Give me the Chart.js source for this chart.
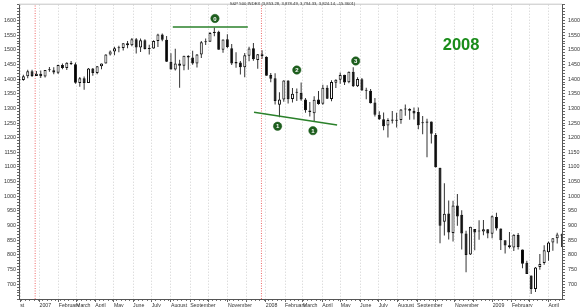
<!DOCTYPE html>
<html><head><meta charset="utf-8">
<script src="https://cdn.jsdelivr.net/npm/chart.js@4.4.1/dist/chart.umd.min.js"></script>
<style>html,body{margin:0;padding:0;background:#fff}canvas{display:block}</style>
</head><body>
<canvas id="c" width="580" height="307"></canvas>
<script>
// ---- data (weekly S&P 500 candles, week starting Monday) ----
const weeks = [
'2006-11-27','2006-12-04','2006-12-11','2006-12-18','2006-12-25',
'2007-01-01','2007-01-08','2007-01-15','2007-01-22','2007-01-29','2007-02-05','2007-02-12','2007-02-19','2007-02-26',
'2007-03-05','2007-03-12','2007-03-19','2007-03-26','2007-04-02','2007-04-09','2007-04-16','2007-04-23','2007-04-30',
'2007-05-07','2007-05-14','2007-05-21','2007-05-28','2007-06-04','2007-06-11','2007-06-18','2007-06-25','2007-07-02',
'2007-07-09','2007-07-16','2007-07-23','2007-07-30','2007-08-06','2007-08-13','2007-08-20','2007-08-27','2007-09-03',
'2007-09-10','2007-09-17','2007-09-24','2007-10-01','2007-10-08','2007-10-15','2007-10-22','2007-10-29','2007-11-05',
'2007-11-12','2007-11-19','2007-11-26','2007-12-03','2007-12-10','2007-12-17','2007-12-24','2007-12-31',
'2008-01-07','2008-01-14','2008-01-21','2008-01-28','2008-02-04','2008-02-11','2008-02-18','2008-02-25','2008-03-03',
'2008-03-10','2008-03-17','2008-03-24','2008-03-31','2008-04-07','2008-04-14','2008-04-21','2008-04-28','2008-05-05',
'2008-05-12','2008-05-19','2008-05-26','2008-06-02','2008-06-09','2008-06-16','2008-06-23','2008-06-30','2008-07-07',
'2008-07-14','2008-07-21','2008-07-28','2008-08-04','2008-08-11','2008-08-18','2008-08-25','2008-09-01','2008-09-08',
'2008-09-15','2008-09-22','2008-09-29','2008-10-06','2008-10-13','2008-10-20','2008-10-27','2008-11-03','2008-11-10',
'2008-11-17','2008-11-24','2008-12-01','2008-12-08','2008-12-15','2008-12-22','2008-12-29',
'2009-01-05','2009-01-12','2009-01-19','2009-01-26','2009-02-02','2009-02-09','2009-02-16','2009-02-23','2009-03-02',
'2009-03-09','2009-03-16','2009-03-23','2009-03-30','2009-04-06','2009-04-13','2009-04-20'];
const opens = [
1400.9,1396.7,1409.8,1427.1,1410.8,
1418.0,1409.3,1430.7,1430.5,1422.0,1448.3,1438.0,1455.5,1451.0,
1387.1,1402.8,1387.0,1436.1,1420.8,1443.8,1452.9,1484.4,1494.1,
1505.6,1505.8,1522.8,1515.7,1536.3,1507.7,1532.9,1502.6,1504.7,
1530.4,1552.5,1534.1,1458.9,1433.0,1453.4,1445.6,1479.4,1474.0,
1453.5,1484.2,1525.8,1527.3,1557.6,1562.0,1500.6,1536.0,1505.6,
1453.7,1456.7,1440.7,1479.6,1505.1,1465.1,1484.5,1475.3,
1414.1,1402.9,1312.9,1330.7,1395.4,1331.9,1355.9,1352.8,1330.5,
1293.2,1283.2,1330.3,1315.9,1370.2,1332.2,1387.7,1397.8,1415.3,
1389.4,1425.3,1376.0,1399.6,1360.8,1360.0,1319.8,1278.1,1262.9,
1241.6,1261.8,1257.8,1260.3,1296.3,1298.1,1292.2,1287.8,1249.5,
1250.9,1255.4,1209.1,1097.6,912.8,941.1,874.3,968.7,936.8,
873.2,801.2,888.6,882.7,879.7,887.2,872.4,
929.2,890.4,849.6,832.5,825.4,868.2,818.6,773.3,729.6,
683.3,758.8,772.0,809.1,842.2,856.9,868.3];
const highs = [
1406.3,1415.3,1431.6,1431.8,1427.7,
1429.4,1431.2,1441.6,1440.7,1449.3,1453.0,1457.7,1461.6,1457.0,
1407.5,1409.3,1437.8,1437.8,1445.1,1453.1,1484.7,1498.0,1510.3,
1513.8,1522.8,1529.9,1540.6,1540.5,1538.7,1536.0,1517.4,1532.4,
1555.1,1555.9,1547.2,1488.3,1503.9,1466.3,1479.4,1481.5,1496.4,
1485.4,1530.0,1538.7,1561.0,1576.1,1564.7,1535.3,1552.8,1520.2,
1492.1,1462.2,1488.9,1510.6,1523.6,1485.4,1498.9,1478.0,
1421.0,1420.0,1355.2,1396.0,1396.0,1370.0,1367.9,1388.3,1335.1,
1321.7,1341.5,1359.7,1380.9,1379.0,1395.9,1399.1,1422.7,1415.3,
1425.8,1440.2,1406.3,1404.1,1370.6,1366.6,1335.6,1290.7,1285.9,
1266.0,1291.2,1284.9,1297.9,1313.2,1300.2,1303.0,1303.0,1274.4,
1265.1,1255.4,1215.8,1097.6,1044.3,985.4,984.4,1007.5,952.0,
882.3,896.3,888.6,918.6,918.9,887.4,934.7,
943.9,890.4,849.6,877.9,870.8,875.0,818.6,780.1,729.6,
758.3,803.0,833.0,845.6,856.6,875.6,871.8];
const lows = [
1377.8,1394.1,1403.0,1407.0,1410.5,
1404.0,1405.4,1424.8,1417.0,1417.4,1433.4,1431.4,1448.4,1384.0,
1373.5,1364.0,1386.9,1411.4,1416.4,1433.9,1452.9,1480.4,1481.6,
1491.4,1497.7,1505.2,1511.9,1487.4,1492.7,1500.7,1484.2,1503.4,
1509.9,1529.2,1458.0,1432.8,1429.4,1370.6,1430.5,1432.0,1449.1,
1439.3,1471.8,1516.2,1527.3,1546.7,1500.6,1489.6,1505.0,1448.5,
1438.5,1415.6,1406.1,1460.7,1463.0,1435.7,1469.9,1411.2,
1389.0,1313.2,1270.1,1322.4,1316.8,1320.3,1325.7,1326.2,1285.0,
1272.7,1257.0,1312.8,1312.8,1331.7,1324.4,1369.8,1384.0,1380.0,
1386.2,1373.1,1373.0,1359.9,1331.3,1316.7,1272.0,1260.7,1225.4,
1200.4,1248.3,1234.4,1247.5,1274.9,1261.1,1262.2,1229.0,1212.0,
1133.5,1179.8,1098.1,839.8,865.8,852.9,845.3,899.7,818.7,
741.0,800.0,815.7,851.4,867.2,857.1,857.1,
883.0,817.0,804.5,821.7,812.9,818.4,754.3,734.5,666.8,
672.9,749.4,766.0,779.8,814.5,838.8,826.8];
const closes = [
1396.7,1409.8,1427.1,1410.8,1418.3,
1409.7,1430.7,1430.5,1422.2,1448.4,1438.1,1455.5,1451.2,1387.2,
1402.8,1387.0,1436.1,1420.9,1443.8,1452.9,1484.4,1494.1,1505.6,
1505.9,1522.8,1515.7,1536.3,1507.7,1532.9,1502.6,1503.4,1530.4,
1552.5,1534.1,1459.0,1433.1,1453.6,1445.9,1479.4,1474.0,1453.6,
1484.3,1525.8,1526.8,1557.6,1561.8,1500.6,1535.3,1509.7,1453.7,
1458.7,1440.7,1481.1,1504.7,1468.0,1484.5,1478.5,1411.6,
1401.0,1325.2,1330.6,1395.4,1331.3,1350.0,1353.1,1330.6,1293.4,
1288.1,1329.5,1315.2,1370.4,1332.8,1390.3,1397.8,1413.9,1388.3,
1425.4,1375.9,1400.4,1360.7,1360.0,1317.9,1278.4,1262.9,1239.5,
1260.7,1257.8,1260.3,1296.3,1298.2,1292.2,1282.8,1242.3,1251.7,
1255.1,1213.3,1099.2,899.2,940.6,876.8,968.8,931.0,873.3,
800.0,896.2,876.1,879.7,887.9,872.8,931.8,
890.4,850.1,832.0,825.9,868.6,826.8,770.1,735.1,683.4,
756.6,768.5,815.9,842.5,856.6,869.6,866.2];

const monthStarts = ['2006-12-01','2007-01-01','2007-02-01','2007-03-01','2007-04-01','2007-05-01','2007-06-01',
'2007-07-01','2007-08-01','2007-09-01','2007-10-01','2007-11-01','2007-12-01','2008-01-01','2008-02-01','2008-03-01',
'2008-04-01','2008-05-01','2008-06-01','2008-07-01','2008-08-01','2008-09-01','2008-10-01','2008-11-01','2008-12-01',
'2009-01-01','2009-02-01','2009-03-01','2009-04-01'];
const monthLabels = ['st','2007','February','March','April','May','June','July','August','September','','November','',
'2008','February','March','April','May','June','July','August','September','','November','','2009','February','','April'];
const yTickLabels = [700,750,800,850,900,950,1000,1050,1100,1150,1200,1250,1300,1350,1400,1450,1500,1550,1600];

const yearMarkerDates = ['2006-12-25','2007-12-25'];
const topLineDates = ['2007-08-04','2007-12-03'];
const topLineValues = [1578,1578];
const lowLineDates = ['2007-12-13','2008-04-25'];
const lowLineValues = [1287,1243];
const markerDates = ['2007-10-11','2008-02-20','2008-05-25','2008-01-20','2008-03-17'];
const markerValues = [1607,1431,1462,1239,1224];
const markerLabels = ['0','2','3','1','1'];
const bigLabel = '2008', bigLabelDate = '2008-11-11', bigLabelValue = 1516;
const titleText = 'S&P 500 INDEX (3,853.28, 3,878.49, 3,794.33, 3,824.14, -15.3601)';

// ---- helpers ----
const dayOf = s => (Date.parse(s + 'T00:00:00Z') - Date.parse('2007-01-01T00:00:00Z')) / 86400000;
const X_MIN = -33.06, X_MAX = 842.74, Y_MIN = 649.4, Y_MAX = 1654;
const candleX = w => dayOf(w) + 2;
const FONT = "'Liberation Sans', Arial, sans-serif";
const monthMap = new Map(monthStarts.map((m, i) => [dayOf(m), monthLabels[i]]));

const bodyData = weeks.map((w, i) => ({x: candleX(w), y: [opens[i], closes[i]]}));
const wickData = weeks.map((w, i) => ({x: candleX(w), y: [lows[i], highs[i]]}));

const vline = d => [{x: dayOf(d), y: Y_MIN}, {x: dayOf(d), y: Y_MAX}];

const annotate = {
  id: 'annotate',
  afterDatasetsDraw(chart) {
    const {ctx, chartArea: a, scales: {x, y}} = chart;
    ctx.save();
    ctx.strokeStyle = '#c4c4c4'; ctx.lineWidth = 1;
    ctx.beginPath(); ctx.moveTo(a.left, a.top - 0.5); ctx.lineTo(a.right, a.top - 0.5); ctx.stroke();
    const meta = chart.getDatasetMeta(chart.data.datasets.length - 1);
    ctx.fillStyle = '#fff'; ctx.textAlign = 'center'; ctx.textBaseline = 'middle';
    ctx.font = 'bold 6px ' + FONT;
    meta.data.forEach((pt, i) => ctx.fillText(markerLabels[i], pt.x, pt.y + 0.5));
    ctx.fillStyle = '#1a8c1a'; ctx.font = 'bold 16.5px ' + FONT;
    ctx.fillText(bigLabel, x.getPixelForValue(dayOf(bigLabelDate)), y.getPixelForValue(bigLabelValue));
    ctx.fillStyle = '#333'; ctx.font = '4.2px ' + FONT;
    ctx.fillText(titleText, (a.left + a.right) / 2 + 2, 4);
    ctx.restore();
  }
};

const yAxis = (pos, w, tl, pad) => ({
  position: pos, min: Y_MIN, max: Y_MAX,
  afterFit: s => { s.width = w; s.paddingTop = 0; s.paddingBottom = 0; },
  ticks: { stepSize: 10, autoSkip: false, padding: pad, color: '#333', font: {family: FONT, size: 5.4},
    callback: v => (Math.abs(v - Math.round(v)) < 1e-6 && yTickLabels.includes(Math.round(v))) ? String(Math.round(v)) : '' },
  grid: { drawOnChartArea: false, tickLength: tl, color: '#666', tickColor: '#666' },
  border: { color: '#555' }
});

new Chart(document.getElementById('c'), {
  type: 'bar',
  data: {
    datasets: [
      { type: 'bar', data: bodyData, order: 2, grouped: false, maxBarThickness: 3, minBarLength: 1,
        borderSkipped: false, borderWidth: 1, borderColor: '#111',
        backgroundColor: c => (closes[c.dataIndex] >= opens[c.dataIndex]) ? '#ffffff' : '#000000' },
      { type: 'bar', data: wickData, order: 3, grouped: false, maxBarThickness: 1,
        borderWidth: 0, backgroundColor: '#333' },
      { type: 'line', data: vline(yearMarkerDates[0]), order: 4, borderColor: 'rgba(235,80,80,0.85)', borderWidth: 1, borderDash: [1, 1.5], pointRadius: 0 },
      { type: 'line', data: vline(yearMarkerDates[1]), order: 4, borderColor: 'rgba(235,80,80,0.85)', borderWidth: 1, borderDash: [1, 1.5], pointRadius: 0 },
      { type: 'line', data: topLineDates.map((d, i) => ({x: dayOf(d), y: topLineValues[i]})), order: 1,
        borderColor: '#2a802a', borderWidth: 1.5, pointRadius: 0 },
      { type: 'line', data: lowLineDates.map((d, i) => ({x: dayOf(d), y: lowLineValues[i]})), order: 1,
        borderColor: '#2a802a', borderWidth: 1.5, pointRadius: 0 },
      { type: 'line', data: markerDates.map((d, i) => ({x: dayOf(d), y: markerValues[i]})), order: 0,
        showLine: false, pointRadius: 4.2, pointBackgroundColor: '#1e5e1e', pointBorderColor: '#1e5e1e', pointBorderWidth: 0.5 }
    ]
  },
  options: {
    responsive: false, animation: false, devicePixelRatio: 1, events: [],
    layout: { padding: { top: 1, left: 0, right: 0, bottom: 0 } },
    plugins: { legend: { display: false }, tooltip: { enabled: false }, title: { display: false } },
    scales: {
      x: {
        type: 'linear', position: 'bottom', weight: 1, min: X_MIN, max: X_MAX, offset: false,
        afterBuildTicks: s => { s.ticks = monthStarts.map(m => ({value: dayOf(m)})); },
        afterFit: s => { s.height = 8; s.paddingLeft = 0; s.paddingRight = 0; },
        ticks: { autoSkip: false, maxRotation: 0, minRotation: 0, align: 'start', padding: 0, color: '#333',
          font: {family: FONT, size: 5.2}, callback: v => monthMap.get(v) ?? '' },
        grid: { drawOnChartArea: true, color: '#cfcfcf', tickColor: '#666', tickLength: 3, offset: false },
        border: { color: '#555', dash: [1, 2] }
      },
      xMinor: {
        type: 'linear', position: 'bottom', weight: 0, min: X_MIN, max: X_MAX, offset: false,
        afterBuildTicks: s => { s.ticks = weeks.map(w => ({value: candleX(w)})).filter(t => t.value >= X_MIN && t.value <= X_MAX); },
        afterFit: s => { s.height = 0; s.paddingLeft = 0; s.paddingRight = 0; },
        ticks: { display: false },
        grid: { drawOnChartArea: false, tickLength: 2, color: '#777', tickColor: '#777' },
        border: { display: false }
      },
      y: yAxis('left', 19, 2, 1),
      y2: yAxis('right', 18, 3, 3)
    }
  },
  plugins: [annotate]
});
</script>
</body></html>
